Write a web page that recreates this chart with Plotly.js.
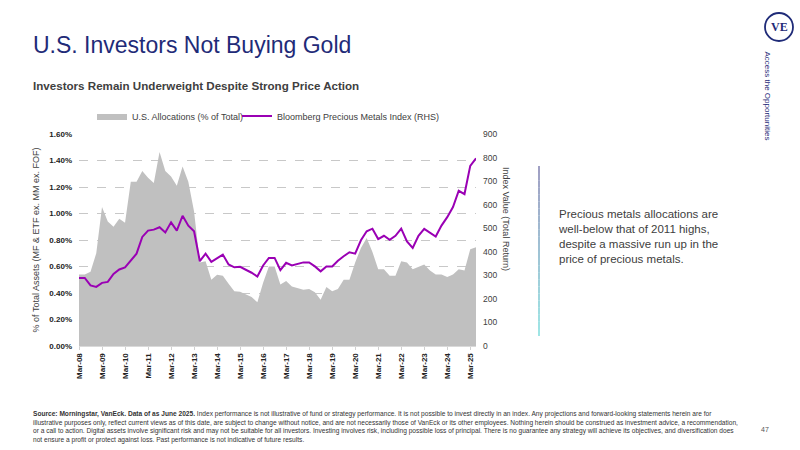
<!DOCTYPE html>
<html>
<head>
<meta charset="utf-8">
<script src="https://cdn.plot.ly/plotly-3.0.1.min.js"></script>
<style>
html,body{margin:0;padding:0;background:#fff;}
#chart{width:800px;height:450px;}
</style>
</head>
<body>
<div id="chart"></div>
<script>
// ---- Data ----
const quarters = [
 "Mar-08","Jun-08","Sep-08","Dec-08","Mar-09","Jun-09","Sep-09","Dec-09",
 "Mar-10","Jun-10","Sep-10","Dec-10","Mar-11","Jun-11","Sep-11","Dec-11",
 "Mar-12","Jun-12","Sep-12","Dec-12","Mar-13","Jun-13","Sep-13","Dec-13",
 "Mar-14","Jun-14","Sep-14","Dec-14","Mar-15","Jun-15","Sep-15","Dec-15",
 "Mar-16","Jun-16","Sep-16","Dec-16","Mar-17","Jun-17","Sep-17","Dec-17",
 "Mar-18","Jun-18","Sep-18","Dec-18","Mar-19","Jun-19","Sep-19","Dec-19",
 "Mar-20","Jun-20","Sep-20","Dec-20","Mar-21","Jun-21","Sep-21","Dec-21",
 "Mar-22","Jun-22","Sep-22","Dec-22","Mar-23","Jun-23","Sep-23","Dec-23",
 "Mar-24","Jun-24","Sep-24","Dec-24","Mar-25","Jun-25"
];
const tickLabels = ["Mar-08","Mar-09","Mar-10","Mar-11","Mar-12","Mar-13","Mar-14","Mar-15","Mar-16",
 "Mar-17","Mar-18","Mar-19","Mar-20","Mar-21","Mar-22","Mar-23","Mar-24","Mar-25"];

// U.S. allocations, % of total assets
const allocations = [
 0.54, 0.54, 0.56, 0.70, 1.05, 0.94, 0.90, 0.96, 0.93, 1.24,
 1.24, 1.32, 1.27, 1.23, 1.465, 1.32, 1.28, 1.21, 1.355, 1.24,
 1.015, 0.63, 0.64, 0.50, 0.537, 0.53, 0.47, 0.414, 0.41, 0.39,
 0.37, 0.33, 0.477, 0.60, 0.60, 0.465, 0.49, 0.45, 0.44, 0.425,
 0.43, 0.406, 0.35, 0.445, 0.414, 0.43, 0.50, 0.50, 0.63, 0.74,
 0.815, 0.71, 0.58, 0.58, 0.53, 0.53, 0.64, 0.63, 0.58, 0.60,
 0.615, 0.57, 0.54, 0.54, 0.52, 0.54, 0.58, 0.57, 0.73, 0.745
];
// Bloomberg Precious Metals Index (total return)
const metalsIndex = [
 289, 289, 257, 251, 268, 272, 306, 325, 334, 364,
 392, 463, 490, 494, 504, 482, 525, 490, 553, 511,
 487, 360, 392, 357, 374, 388, 346, 334, 336, 325,
 311, 295, 342, 374, 374, 322, 353, 342, 349, 355,
 355, 338, 317, 338, 338, 362, 381, 398, 392, 449,
 487, 498, 454, 468, 451, 468, 498, 444, 416, 468,
 497, 482, 465, 511, 547, 590, 659, 645, 765, 797
];
const leftTicks = [0,0.2,0.4,0.6,0.8,1.0,1.2,1.4,1.6];
const rightTicks = [0,100,200,300,400,500,600,700,800,900];

// ---- Layout helpers (pixel -> paper) ----
const L = 79, R = 476, T = 134, B = 346;
const px = v => (v - L) / (R - L);
const py = v => (B - v) / (B - T);

const FONT = "Liberation Sans, Arial, sans-serif";
const NARROW = "Liberation Sans Narrow, Arial Narrow, Liberation Sans, sans-serif";
const GREY_TXT = "#404040";
const NAVY = "#1f2b78";

const traces = [
 {
  x: quarters, y: allocations, type: "scatter", mode: "lines",
  name: "U.S. Allocations (% of Total)",
  fill: "tozeroy", fillcolor: "#c0c0c0",
  line: {width: 0, color: "#c0c0c0"},
  yaxis: "y", hoverinfo: "skip", legend: "legend"
 },
 {
  x: quarters, y: metalsIndex, type: "scatter", mode: "lines",
  name: "Bloomberg Precious Metals Index (RHS)",
  line: {width: 2, color: "#9a00b4"},
  yaxis: "y2", hoverinfo: "skip", legend: "legend2"
 }
];

const shapes = [];
// gradient accent line next to commentary
const segs = 24, y0 = 166, y1 = 336;
for (let k = 0; k < segs; k++) {
  const t = k / (segs - 1);
  const r = Math.round(0x80 + (0x7f - 0x80) * t);
  const g = Math.round(0x80 + (0xdd - 0x80) * t);
  const b = Math.round(0xb0 + (0xdd - 0xb0) * t);
  shapes.push({type: "line", xref: "paper", yref: "paper",
    x0: px(539), x1: px(539),
    y0: py(y0 + (y1 - y0) * k / segs), y1: py(y0 + (y1 - y0) * (k + 1) / segs),
    line: {color: `rgb(${r},${g},${b})`, width: 1.5}});
}
// logo circle
shapes.push({type: "circle", xref: "paper", yref: "paper",
  x0: px(765), x1: px(793), y0: py(41), y1: py(13),
  line: {color: NAVY, width: 1.8}});

const annotations = [
 {text: "U.S. Investors Not Buying Gold", x: px(31), y: py(45), xref: "paper", yref: "paper",
  xanchor: "left", yanchor: "middle", showarrow: false, font: {family: FONT, size: 23, color: NAVY}},
 {text: "<b>Investors Remain Underweight Despite Strong Price Action</b>", x: px(31), y: py(85), xref: "paper", yref: "paper",
  xanchor: "left", yanchor: "middle", showarrow: false, font: {family: FONT, size: 11.6, color: GREY_TXT}},
 {text: "<b>VE</b>", x: px(779), y: py(27), xref: "paper", yref: "paper",
  xanchor: "center", yanchor: "middle", showarrow: false,
  font: {family: "Liberation Serif, Times New Roman, serif", size: 12, color: NAVY}},
 {text: "Access the Opportunities", x: px(767), y: py(49), xref: "paper", yref: "paper",
  xanchor: "center", yanchor: "top", textangle: 90, showarrow: false,
  font: {family: FONT, size: 8, color: NAVY}},
 {text: "Index Value (Total Return)", x: px(506), y: py(219), xref: "paper", yref: "paper",
  xanchor: "center", yanchor: "middle", textangle: 90, showarrow: false,
  font: {family: FONT, size: 9, color: GREY_TXT}},
 {text: "Precious metals allocations are<br>well-below that of 2011 highs,<br>despite a massive run up in the<br>price of precious metals.",
  x: px(556), y: py(236), xref: "paper", yref: "paper", xanchor: "left", yanchor: "middle",
  align: "left", showarrow: false, font: {family: FONT, size: 11.5, color: GREY_TXT}},
 {text: "<b>Source: Morningstar, VanEck. Data of as June 2025.</b> Index performance is not illustrative of fund or strategy performance. It is not possible to invest directly in an index. Any projections and forward-looking statements herein are for<br>" +
        "illustrative purposes only, reflect current views as of this date, are subject to change without notice, and are not necessarily those of VanEck or its other employees. Nothing herein should be construed as investment advice, a recommendation,<br>" +
        "or a call to action. Digital assets involve significant risk and may not be suitable for all investors. Investing involves risk, including possible loss of principal. There is no guarantee any strategy will achieve its objectives, and diversification does<br>" +
        "not ensure a profit or protect against loss. Past performance is not indicative of future results.",
  x: px(31), y: py(408), xref: "paper", yref: "paper", xanchor: "left", yanchor: "top",
  align: "left", showarrow: false, font: {family: NARROW, size: 6.6, color: "#333333"}},
 {text: "47", x: px(765), y: py(429), xref: "paper", yref: "paper", xanchor: "center", yanchor: "middle",
  showarrow: false, font: {family: NARROW, size: 7, color: "#555555"}}
];

const legendBase = {orientation: "h", xref: "container", yref: "container",
  y: 1 - 116 / 450, xanchor: "left", yanchor: "middle",
  font: {family: FONT, size: 9, color: GREY_TXT},
  bgcolor: "rgba(0,0,0,0)", itemwidth: 30};

const layout = {
  width: 800, height: 450,
  margin: {l: L, r: 800 - R, t: T, b: 450 - B, pad: 0},
  paper_bgcolor: "#ffffff", plot_bgcolor: "#ffffff",
  font: {family: FONT, color: GREY_TXT},
  showlegend: true,
  legend: Object.assign({}, legendBase, {x: 92 / 800}),
  legend2: Object.assign({}, legendBase, {x: 237 / 800}),
  xaxis: {
    type: "category", range: [0, quarters.length - 1],
    tickmode: "array", tickvals: tickLabels, ticktext: tickLabels,
    tickangle: -90, tickfont: {family: FONT, size: 8, color: "#222222", weight: "bold"},
    ticks: "outside", ticklen: 3, tickcolor: "#d0d0d0",
    showgrid: false, showline: true, linecolor: "#d9d9d9", linewidth: 1, zeroline: false
  },
  yaxis: {
    range: [0, 1.6], tickmode: "array", tickvals: leftTicks,
    ticktext: leftTicks.map(v => v.toFixed(2) + "%"),
    tickfont: {family: FONT, size: 8, color: "#222222", weight: "bold"},
    showgrid: true, gridcolor: "#c8c8c8", griddash: "dash", gridwidth: 1,
    zeroline: false, showline: false, ticks: "", ticklabelstandoff: 6,
    title: {text: "% of Total Assets (MF & ETF ex. MM ex. FOF)", font: {family: FONT, size: 9, color: GREY_TXT}, standoff: 8}
  },
  yaxis2: {
    range: [0, 900], overlaying: "y", side: "right", tickmode: "array", tickvals: rightTicks,
    tickfont: {family: FONT, size: 8.5, color: GREY_TXT},
    showgrid: false, zeroline: false, showline: false, ticks: "", ticklabelstandoff: 6
  },
  shapes: shapes,
  annotations: annotations
};

Plotly.newPlot("chart", traces, layout, {staticPlot: true, displayModeBar: false});
</script>
</body>
</html>
